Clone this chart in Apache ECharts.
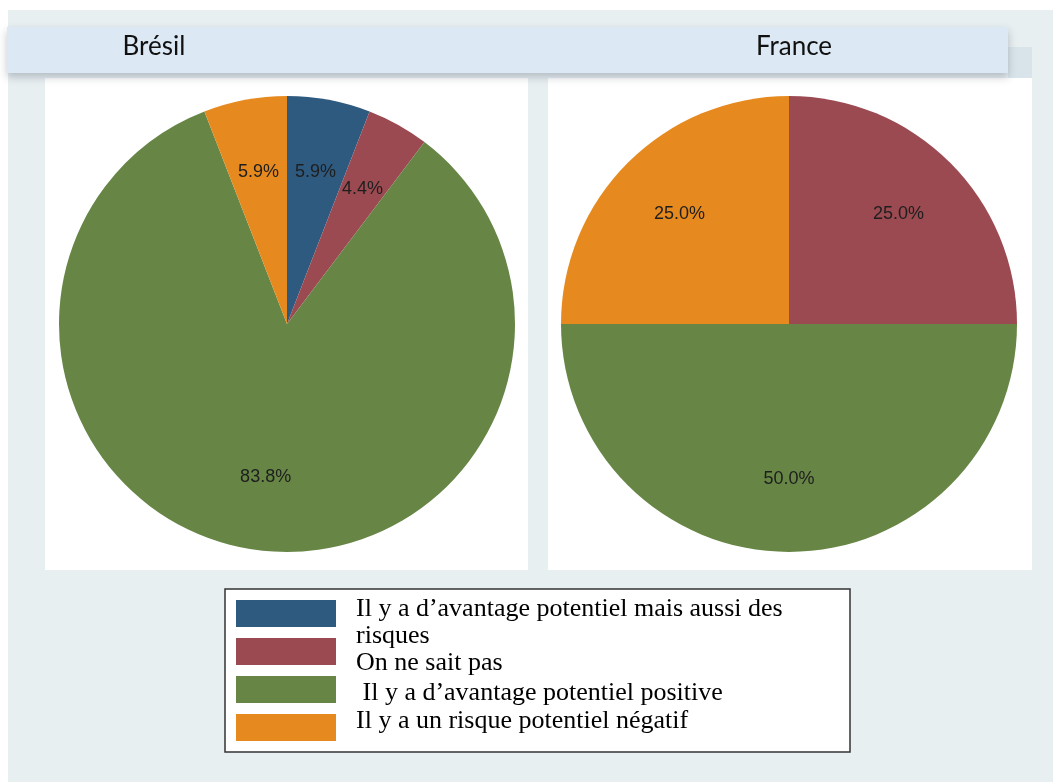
<!DOCTYPE html>
<html>
<head>
<meta charset="utf-8">
<title>Brésil / France</title>
<script src="https://cdn.jsdelivr.net/npm/echarts@6/dist/echarts.min.js"></script>
<style>
html, body { margin: 0; padding: 0; background: #fff; }
#chart { width: 1053px; height: 782px; }
</style>
</head>
<body>
<div id="chart"></div>
<script>
// catégories de réponse, dans l'ordre des secteurs (sens horaire depuis midi)
const categories = [
  'Il y a d’avantage potentiel mais aussi des risques',
  'On ne sait pas',
  'Il y a d’avantage potentiel positive',
  'Il y a un risque potentiel négatif'
]
const colors = ['#2f5a80', '#9b4a51', '#678646', '#e68a1f']
const bresilValues = [5.9, 4.4, 83.8, 5.9]
const franceValues = [0, 25.0, 50.0, 25.0]
const titles = ['Brésil', 'France']
// texte de la légende, coupé comme dans l'image
const legendLines = [
  'Il y a d’avantage potentiel mais aussi des',
  'risques',
  'On ne sait pas',
  ' Il y a d’avantage potentiel positive',
  'Il y a un risque potentiel négatif'
]

const R = 228
const CY = 324

// un camembert coloré + un camembert transparent qui porte les étiquettes à 2/3 du rayon
const pieSeries = (values, cx) => {
  const colored = categories.map((name, i) => ({ name, value: values[i], itemStyle: { color: colors[i] } }))
  const ghost = categories.map((name, i) => ({ name, value: values[i], itemStyle: { color: 'rgba(0,0,0,0)' } }))
  return [{
    type: 'pie',
    center: [cx, CY],
    radius: [0, R],
    startAngle: 90,
    clockwise: true,
    silent: true,
    label: { show: false },
    labelLine: { show: false },
    data: colored
  }, {
    type: 'pie',
    center: [cx, CY],
    radius: [R / 3, R],
    startAngle: 90,
    clockwise: true,
    silent: true,
    label: {
      show: true,
      position: 'inside',
      formatter: p => p.value ? p.value.toFixed(1) + '%' : '',
      color: '#1e1e1e',
      fontSize: 18,
      fontFamily: 'Liberation Sans'
    },
    labelLine: { show: false },
    data: ghost
  }]
}

const legendTops = [609, 636, 663, 693, 721]

const chart = echarts.init(document.getElementById('chart'))
chart.setOption({
  animation: false,
  backgroundColor: '#fff',
  legend: {
    orient: 'vertical',
    left: 236,
    top: 600,
    padding: 0,
    itemWidth: 100,
    itemHeight: 27,
    itemGap: 11,
    icon: 'rect',
    selectedMode: false,
    formatter: () => '',
    textStyle: { fontSize: 1 },
    itemStyle: { borderWidth: 0 },
    data: categories
  },
  graphic: [
    { type: 'rect', z: -10, shape: { x: 8, y: 10, width: 1045, height: 772 }, style: { fill: '#e7eff1' } },
    { type: 'rect', z: -10, shape: { x: 1008, y: 47, width: 24, height: 33 }, style: { fill: '#d8e4ea' } },
    { type: 'rect', z: -10, shape: { x: 45, y: 78, width: 483, height: 492 }, style: { fill: '#fff' } },
    { type: 'rect', z: -10, shape: { x: 548, y: 78, width: 484, height: 492 }, style: { fill: '#fff' } },
    {
      type: 'rect', z: -9, shape: { x: 7, y: 27, width: 1001, height: 46 },
      style: { fill: '#dce8f4', shadowBlur: 8, shadowOffsetY: 4, shadowColor: 'rgba(60,70,90,0.3)' }
    },
    {
      type: 'text', z: -8, x: 154, y: 47,
      style: { text: titles[0], font: '26px Lato', fill: '#111', align: 'center', verticalAlign: 'middle', textAlign: 'center', textVerticalAlign: 'middle' }
    },
    {
      type: 'text', z: -8, x: 794, y: 47,
      style: { text: titles[1], font: '26px Lato', fill: '#111', align: 'center', verticalAlign: 'middle', textAlign: 'center', textVerticalAlign: 'middle' }
    },
    {
      type: 'rect', z: -8, shape: { x: 225, y: 589, width: 625, height: 163 },
      style: { fill: '#fff', stroke: '#333', lineWidth: 1.5 }
    }
  ].concat(legendLines.map((t, i) => ({
    type: 'text', z: -7, x: 356, y: legendTops[i],
    style: { text: t, font: '26px "Liberation Serif"', fill: '#000', align: 'left', verticalAlign: 'middle', textAlign: 'left', textVerticalAlign: 'middle' }
  }))),
  series: pieSeries(bresilValues, 287).concat(pieSeries(franceValues, 789))
})
</script>
</body>
</html>
